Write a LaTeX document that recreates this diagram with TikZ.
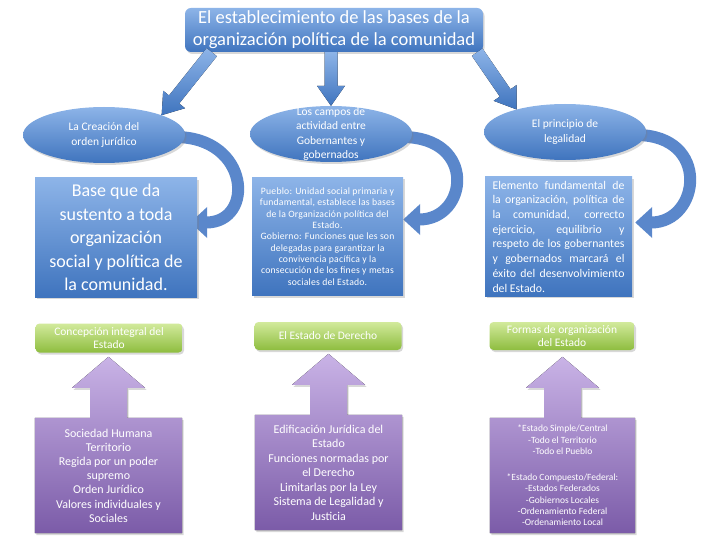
\documentclass[tikz,border=0pt]{standalone}
\usepackage{fontspec}
\setmainfont{Carlito}
\usetikzlibrary{shapes.geometric,arrows.meta,calc,shadows}
\definecolor{blueL}{HTML}{8DB4E8}
\definecolor{blueD}{HTML}{3F74BE}
\definecolor{blueC}{HTML}{5A87CB}
\definecolor{greenL}{HTML}{D2EA9C}
\definecolor{greenD}{HTML}{8EBD3F}
\definecolor{purpL}{HTML}{C9B3E6}
\definecolor{purpD}{HTML}{7B5BA8}
\pgfdeclarelayer{bg}
\pgfsetlayers{bg,main}
\newcommand\blkarrow[2]{%
  \coordinate (hb) at ($(#2)!20pt!(#1)$);
  \fill[blockarrow] ($(#1)!6.5pt!90:(#2)$) -- ($(hb)!6.5pt!90:(#2)$) -- ($(hb)!14pt!90:(#2)$) -- (#2)
    -- ($(hb)!14pt!-90:(#2)$) -- ($(hb)!6.5pt!-90:(#2)$) -- ($(#1)!6.5pt!-90:(#2)$) -- cycle;}
\newcommand\upcallout[1]{%
  \fill[purpshape] (#1.south west) -- (#1.north west) -- ($(#1.north)+(-18.5,0)$) -- ($(#1.north)+(-18.5,-30)$)
    -- ($(#1.north)+(-36.5,-30)$) -- ($(#1.north)+(0,-61)$) -- ($(#1.north)+(36.5,-30)$)
    -- ($(#1.north)+(18.5,-30)$) -- ($(#1.north)+(18.5,0)$) -- (#1.north east) -- (#1.south east) -- cycle;}
\begin{document}
\begin{tikzpicture}[x=1pt,y=-1pt,
  shadowed/.style={drop shadow={opacity=0.3,shadow xshift=1.5pt,shadow yshift=-2pt}},
  bluebox/.style={draw=none,top color=blueL,bottom color=blueD,text=white,align=center,inner sep=0pt,shadowed},
  ellbox/.style={ellipse,draw=none,top color=blueL,bottom color=blueD,inner sep=0pt,minimum width=162pt,minimum height=56pt,shadowed},
  elltext/.style={text=white,align=center,inner sep=0pt,font=\fontsize{11.5}{14.5}\selectfont},
  greenbox/.style={draw=none,rounded corners=4pt,top color=greenL,bottom color=greenD,text=white,align=center,inner sep=0pt,
    font=\fontsize{11.5}{13.5}\selectfont,shadowed},
  purptext/.style={text=white,align=center,inner sep=0pt},
  purpshape/.style={top color=purpL,bottom color=purpD,shadowed},
  blockarrow/.style={top color=blueL,bottom color=blueD},
  curvearrow/.style={draw=blueC,line width=12pt,-{Triangle[width=30pt,length=17pt]}}]
\begin{pgfonlayer}{bg}
\fill[white] (0,0) rectangle (720,540);
\end{pgfonlayer}
\useasboundingbox (0,0) rectangle (720,540);

% title
\node[bluebox,rounded corners=6pt,minimum width=298pt,minimum height=44pt,font=\fontsize{18.5}{22}\selectfont]
  (title) at (334,30) {El establecimiento de las bases de la\\organización política de la comunidad};

% ellipses
\node[ellbox] (e1) at (104,135) {};
\node[elltext] (e1t) at (e1) {La Creación del\\orden jurídico};
\node[ellbox] (e2) at (331,134) {};
\node[elltext] (e2t) at (e2) {Los campos de\\actividad entre\\Gobernantes y\\gobernados};
\node[ellbox] (e3) at (565,132) {};
\node[elltext] (e3t) at (e3) {El principio de\\legalidad};

% arrows from title
\coordinate (s1) at ($(title.south west)+(27,0)$);
\coordinate (s2) at (e2.north |- title.south);
\coordinate (s3) at ($(title.south east)+(-6,0)$);
\blkarrow{s1}{e1.19}
\blkarrow{s2}{e2.north}
\blkarrow{s3}{e3.155}

% second row boxes
\node[bluebox,minimum width=162pt,minimum height=119pt,font=\fontsize{18}{23.5}\selectfont]
  (b1) at (116,237.5) {Base que da\\sustento a toda\\organización\\social y política de\\la comunidad.};
\node[bluebox,minimum width=151pt,minimum height=118pt,font=\fontsize{9.7}{11.3}\selectfont\addfontfeatures{LetterSpace=2}]
  (b2) at (327.5,236.5) {Pueblo: Unidad social primaria y\\fundamental, establece las bases\\de la Organización política del\\Estado.\\Gobierno: Funciones que les son\\delegadas para garantizar la\\convivencia pacífica y la\\consecución de los fines y metas\\sociales del Estado.};
\node[bluebox,minimum width=147pt,minimum height=119pt,align=left,font=\fontsize{11.8}{14.7}\selectfont]
  (b3) at (558.5,236.5) {\makebox[132pt][s]{Elemento fundamental de}\\\makebox[132pt][s]{la organización, política de}\\\makebox[132pt][s]{la comunidad, correcto}\\\makebox[132pt][s]{ejercicio, equilibrio y}\\\makebox[132pt][s]{respeto de los gobernantes}\\\makebox[132pt][s]{y gobernados marcará el}\\\makebox[132pt][s]{éxito del desenvolvimiento}\\del Estado.};

% curved arrows
\begin{pgfonlayer}{bg}
\draw[curvearrow] ($(e1.east)+(-10,2)$) .. controls +(75,0) and +(65,0) .. ($(b1.east)+(-7,-15)$);
\draw[curvearrow] ($(e2.east)+(-10,3)$) .. controls +(75,0) and +(65,0) .. ($(b2.east)+(0,-17)$);
\draw[curvearrow] ($(e3.east)+(-10,3)$) .. controls +(75,0) and +(65,0) .. ($(b3.east)+(3,-14)$);
\end{pgfonlayer}

% green boxes
\node[greenbox,minimum width=147pt,minimum height=29pt] (g1) at (109,338) {Concepción integral del\\Estado};
\node[greenbox,minimum width=147pt,minimum height=28pt] (g2) at (328,336) {El Estado de Derecho};
\node[greenbox,minimum width=145pt,minimum height=28pt] (g3) at (562,336) {Formas de organización\\del Estado};

% purple callouts
\node[purptext,minimum width=147pt,minimum height=115pt,font=\fontsize{12}{14.2}\selectfont]
  (p1) at (108.5,475.5) {Sociedad Humana\\Territorio\\Regida por un poder\\supremo\\Orden Jurídico\\Valores individuales y\\Sociales};
\node[purptext,minimum width=147pt,minimum height=115pt,font=\fontsize{12}{14.5}\selectfont]
  (p2) at (328.5,472.5) {Edificación Jurídica del\\Estado\\Funciones normadas por\\el Derecho\\Limitarlas por la Ley\\Sistema de Legalidad y\\Justicia};
\node[purptext,minimum width=145pt,minimum height=115pt,font=\fontsize{9.5}{11.3}\selectfont]
  (p3) at (562.5,475.5) {*Estado Simple/Central\\-Todo el Territorio\\-Todo el Pueblo\\[15pt]*Estado Compuesto/Federal:\\-Estados Federados\\-Gobiernos Locales\\-Ordenamiento Federal\\-Ordenamiento Local};
\begin{pgfonlayer}{bg}
\upcallout{p1}
\upcallout{p2}
\upcallout{p3}
\end{pgfonlayer}
\end{tikzpicture}
\end{document}
